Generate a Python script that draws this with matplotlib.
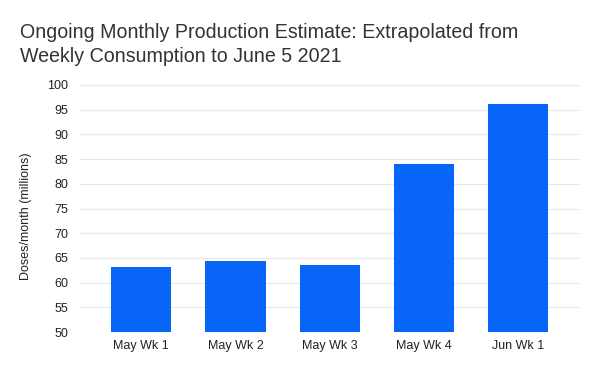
import matplotlib.pyplot as plt

plt.rcParams['font.family'] = ['Liberation Sans', 'DejaVu Sans']

# data
weeks = ["May Wk 1", "May Wk 2", "May Wk 3", "May Wk 4", "Jun Wk 1"]
doses = [63.1, 64.3, 63.5, 84.1, 96.1]
yticks = list(range(50, 101, 5))
title_lines = ["Ongoing Monthly Production Estimate: Extrapolated from",
               "Weekly Consumption to June 5 2021"]

fig = plt.figure(figsize=(6, 3.71), dpi=100)
ax = fig.add_axes([0.132, 0.105, 0.835, 0.666])

ax.bar(range(len(weeks)), doses, width=0.64, color="#0765f7", zorder=3)

ax.set_ylim(50, 100)
ax.set_yticks(yticks)
ax.set_xlim(-0.66, 4.66)
ax.set_xticks(range(len(weeks)))
ax.set_xticklabels(weeks)
ax.grid(axis="y", color="#e8e8e8", linewidth=0.9, zorder=0)
for s in ax.spines.values():
    s.set_visible(False)
ax.tick_params(axis="both", length=0, labelsize=9, colors="#222222")
ax.tick_params(axis="y", pad=8)
ax.tick_params(axis="x", pad=6)
ax.set_ylabel("Doses/month (millions)", fontsize=9, color="#222222")
ax.yaxis.set_label_coords(-0.094, 0.47)

# title, one text per line
fig.text(0.033, 0.898, title_lines[0], fontsize=14.1, color="#333333", ha="left", va="baseline")
fig.text(0.033, 0.833, title_lines[1], fontsize=14.1, color="#333333", ha="left", va="baseline")

fig.savefig("out.png", dpi=100)
